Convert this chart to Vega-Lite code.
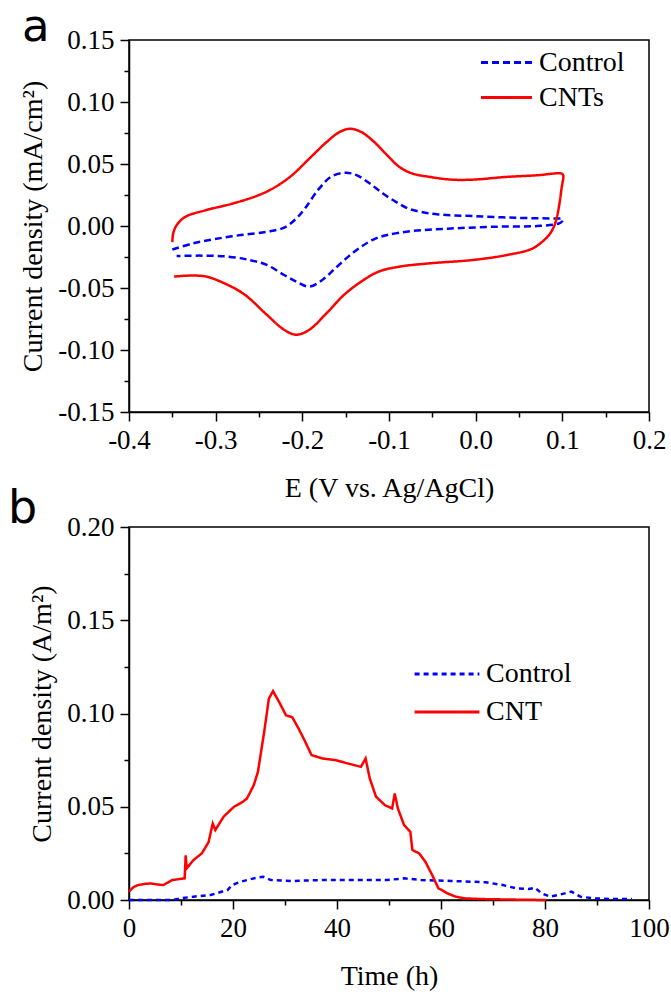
{
  "$schema": "https://vega.github.io/schema/vega-lite/v6.json",
  "padding": {"left": 7, "top": 4, "right": 5, "bottom": 5},
  "background": "white",
  "spacing": -18,
  "datasets": {
    "cv": [
      {"s": "Control", "i": 0, "E": -0.350, "j": -0.019},
      {"s": "Control", "i": 1, "E": -0.326, "j": -0.014},
      {"s": "Control", "i": 2, "E": -0.301, "j": -0.0105},
      {"s": "Control", "i": 3, "E": -0.271, "j": -0.0073},
      {"s": "Control", "i": 4, "E": -0.241, "j": -0.0046},
      {"s": "Control", "i": 5, "E": -0.221, "j": -0.0014},
      {"s": "Control", "i": 6, "E": -0.207, "j": 0.006},
      {"s": "Control", "i": 7, "E": -0.197, "j": 0.0141},
      {"s": "Control", "i": 8, "E": -0.182, "j": 0.0289},
      {"s": "Control", "i": 9, "E": -0.167, "j": 0.0396},
      {"s": "Control", "i": 10, "E": -0.150, "j": 0.043},
      {"s": "Control", "i": 11, "E": -0.137, "j": 0.0409},
      {"s": "Control", "i": 12, "E": -0.122, "j": 0.0342},
      {"s": "Control", "i": 13, "E": -0.107, "j": 0.0262},
      {"s": "Control", "i": 14, "E": -0.092, "j": 0.0195},
      {"s": "Control", "i": 15, "E": -0.078, "j": 0.0141},
      {"s": "Control", "i": 16, "E": -0.063, "j": 0.0114},
      {"s": "Control", "i": 17, "E": -0.043, "j": 0.0093},
      {"s": "Control", "i": 18, "E": -0.003, "j": 0.008},
      {"s": "Control", "i": 19, "E": 0.046, "j": 0.0066},
      {"s": "Control", "i": 20, "E": 0.096, "j": 0.006},
      {"s": "Control", "i": 21, "E": 0.100, "j": 0.006},
      {"s": "Control", "i": 22, "E": 0.100, "j": 0.004},
      {"s": "Control", "i": 23, "E": 0.096, "j": 0.002},
      {"s": "Control", "i": 24, "E": 0.071, "j": 0.0},
      {"s": "Control", "i": 25, "E": 0.022, "j": -0.0006},
      {"s": "Control", "i": 26, "E": -0.028, "j": -0.002},
      {"s": "Control", "i": 27, "E": -0.073, "j": -0.004},
      {"s": "Control", "i": 28, "E": -0.102, "j": -0.0073},
      {"s": "Control", "i": 29, "E": -0.117, "j": -0.0105},
      {"s": "Control", "i": 30, "E": -0.132, "j": -0.0167},
      {"s": "Control", "i": 31, "E": -0.147, "j": -0.0247},
      {"s": "Control", "i": 32, "E": -0.162, "j": -0.0341},
      {"s": "Control", "i": 33, "E": -0.177, "j": -0.0435},
      {"s": "Control", "i": 34, "E": -0.192, "j": -0.0489},
      {"s": "Control", "i": 35, "E": -0.207, "j": -0.0448},
      {"s": "Control", "i": 36, "E": -0.221, "j": -0.0395},
      {"s": "Control", "i": 37, "E": -0.241, "j": -0.0314},
      {"s": "Control", "i": 38, "E": -0.261, "j": -0.0274},
      {"s": "Control", "i": 39, "E": -0.286, "j": -0.0247},
      {"s": "Control", "i": 40, "E": -0.316, "j": -0.0239},
      {"s": "Control", "i": 41, "E": -0.345, "j": -0.0242},
      {"s": "CNTs", "i": 0, "E": -0.350, "j": -0.013},
      {"s": "CNTs", "i": 1, "E": -0.349, "j": -0.006},
      {"s": "CNTs", "i": 2, "E": -0.345, "j": 0.0007},
      {"s": "CNTs", "i": 3, "E": -0.335, "j": 0.0074},
      {"s": "CNTs", "i": 4, "E": -0.311, "j": 0.0128},
      {"s": "CNTs", "i": 5, "E": -0.281, "j": 0.018},
      {"s": "CNTs", "i": 6, "E": -0.251, "j": 0.0247},
      {"s": "CNTs", "i": 7, "E": -0.231, "j": 0.0315},
      {"s": "CNTs", "i": 8, "E": -0.212, "j": 0.0409},
      {"s": "CNTs", "i": 9, "E": -0.192, "j": 0.0543},
      {"s": "CNTs", "i": 10, "E": -0.172, "j": 0.0677},
      {"s": "CNTs", "i": 11, "E": -0.157, "j": 0.0758},
      {"s": "CNTs", "i": 12, "E": -0.145, "j": 0.0784},
      {"s": "CNTs", "i": 13, "E": -0.132, "j": 0.0758},
      {"s": "CNTs", "i": 14, "E": -0.117, "j": 0.0677},
      {"s": "CNTs", "i": 15, "E": -0.102, "j": 0.057},
      {"s": "CNTs", "i": 16, "E": -0.088, "j": 0.0476},
      {"s": "CNTs", "i": 17, "E": -0.073, "j": 0.0423},
      {"s": "CNTs", "i": 18, "E": -0.053, "j": 0.0396},
      {"s": "CNTs", "i": 19, "E": -0.028, "j": 0.0374},
      {"s": "CNTs", "i": 20, "E": -0.003, "j": 0.0374},
      {"s": "CNTs", "i": 21, "E": 0.036, "j": 0.0396},
      {"s": "CNTs", "i": 22, "E": 0.071, "j": 0.0409},
      {"s": "CNTs", "i": 23, "E": 0.099, "j": 0.0423},
      {"s": "CNTs", "i": 24, "E": 0.101, "j": 0.041},
      {"s": "CNTs", "i": 25, "E": 0.099, "j": 0.030},
      {"s": "CNTs", "i": 26, "E": 0.097, "j": 0.0195},
      {"s": "CNTs", "i": 27, "E": 0.094, "j": 0.008},
      {"s": "CNTs", "i": 28, "E": 0.091, "j": 0.0007},
      {"s": "CNTs", "i": 29, "E": 0.086, "j": -0.006},
      {"s": "CNTs", "i": 30, "E": 0.081, "j": -0.010},
      {"s": "CNTs", "i": 31, "E": 0.066, "j": -0.018},
      {"s": "CNTs", "i": 32, "E": 0.036, "j": -0.0234},
      {"s": "CNTs", "i": 33, "E": -0.003, "j": -0.0274},
      {"s": "CNTs", "i": 34, "E": -0.053, "j": -0.0301},
      {"s": "CNTs", "i": 35, "E": -0.088, "j": -0.0328},
      {"s": "CNTs", "i": 36, "E": -0.112, "j": -0.0368},
      {"s": "CNTs", "i": 37, "E": -0.132, "j": -0.0448},
      {"s": "CNTs", "i": 38, "E": -0.152, "j": -0.0556},
      {"s": "CNTs", "i": 39, "E": -0.172, "j": -0.0703},
      {"s": "CNTs", "i": 40, "E": -0.192, "j": -0.0837},
      {"s": "CNTs", "i": 41, "E": -0.207, "j": -0.0877},
      {"s": "CNTs", "i": 42, "E": -0.221, "j": -0.0837},
      {"s": "CNTs", "i": 43, "E": -0.241, "j": -0.0716},
      {"s": "CNTs", "i": 44, "E": -0.266, "j": -0.0556},
      {"s": "CNTs", "i": 45, "E": -0.286, "j": -0.0475},
      {"s": "CNTs", "i": 46, "E": -0.311, "j": -0.0408},
      {"s": "CNTs", "i": 47, "E": -0.330, "j": -0.0400},
      {"s": "CNTs", "i": 48, "E": -0.348, "j": -0.0408}
    ],
    "ct": [
      {"s": "Control", "t": 0, "j": 0},
      {"s": "Control", "t": 8.3, "j": 0},
      {"s": "Control", "t": 9.9, "j": 0.0009},
      {"s": "Control", "t": 12.4, "j": 0.0018},
      {"s": "Control", "t": 15.7, "j": 0.0027},
      {"s": "Control", "t": 19.0, "j": 0.0054},
      {"s": "Control", "t": 19.8, "j": 0.008},
      {"s": "Control", "t": 21.5, "j": 0.0098},
      {"s": "Control", "t": 24.0, "j": 0.0116},
      {"s": "Control", "t": 25.8, "j": 0.0125},
      {"s": "Control", "t": 27.3, "j": 0.0107},
      {"s": "Control", "t": 31.4, "j": 0.0102},
      {"s": "Control", "t": 37.2, "j": 0.0107},
      {"s": "Control", "t": 45.5, "j": 0.0107},
      {"s": "Control", "t": 49.6, "j": 0.0107},
      {"s": "Control", "t": 52.9, "j": 0.0116},
      {"s": "Control", "t": 56.2, "j": 0.0107},
      {"s": "Control", "t": 62.0, "j": 0.0102},
      {"s": "Control", "t": 68.6, "j": 0.0095},
      {"s": "Control", "t": 71.9, "j": 0.008},
      {"s": "Control", "t": 74.4, "j": 0.0063},
      {"s": "Control", "t": 76.9, "j": 0.0059},
      {"s": "Control", "t": 78.1, "j": 0.0066},
      {"s": "Control", "t": 79.3, "j": 0.0036},
      {"s": "Control", "t": 81.0, "j": 0.0018},
      {"s": "Control", "t": 82.6, "j": 0.0027},
      {"s": "Control", "t": 85.1, "j": 0.0045},
      {"s": "Control", "t": 86.8, "j": 0.0018},
      {"s": "Control", "t": 89.3, "j": 0.0009},
      {"s": "Control", "t": 92.6, "j": 0.0005},
      {"s": "Control", "t": 96.7, "j": 0.0005},
      {"s": "CNT", "t": 0, "j": 0.0045},
      {"s": "CNT", "t": 0.8, "j": 0.0068},
      {"s": "CNT", "t": 1.7, "j": 0.008},
      {"s": "CNT", "t": 3.0, "j": 0.0086},
      {"s": "CNT", "t": 4.1, "j": 0.0089},
      {"s": "CNT", "t": 5.3, "j": 0.0084},
      {"s": "CNT", "t": 6.6, "j": 0.008},
      {"s": "CNT", "t": 8.3, "j": 0.0107},
      {"s": "CNT", "t": 10.7, "j": 0.0116},
      {"s": "CNT", "t": 10.9, "j": 0.024},
      {"s": "CNT", "t": 11.1, "j": 0.017},
      {"s": "CNT", "t": 12.4, "j": 0.0214},
      {"s": "CNT", "t": 14.0, "j": 0.025},
      {"s": "CNT", "t": 15.3, "j": 0.031},
      {"s": "CNT", "t": 16.1, "j": 0.041},
      {"s": "CNT", "t": 16.6, "j": 0.0375},
      {"s": "CNT", "t": 18.2, "j": 0.0447},
      {"s": "CNT", "t": 20.2, "j": 0.05},
      {"s": "CNT", "t": 21.9, "j": 0.0527},
      {"s": "CNT", "t": 22.7, "j": 0.0545},
      {"s": "CNT", "t": 24.0, "j": 0.0616},
      {"s": "CNT", "t": 24.8, "j": 0.0688},
      {"s": "CNT", "t": 26.0, "j": 0.0902},
      {"s": "CNT", "t": 26.9, "j": 0.108},
      {"s": "CNT", "t": 27.7, "j": 0.112},
      {"s": "CNT", "t": 28.9, "j": 0.106},
      {"s": "CNT", "t": 30.2, "j": 0.099},
      {"s": "CNT", "t": 31.4, "j": 0.098},
      {"s": "CNT", "t": 32.6, "j": 0.092},
      {"s": "CNT", "t": 33.9, "j": 0.0848},
      {"s": "CNT", "t": 35.1, "j": 0.0777},
      {"s": "CNT", "t": 37.2, "j": 0.0759},
      {"s": "CNT", "t": 39.7, "j": 0.075},
      {"s": "CNT", "t": 42.1, "j": 0.0732},
      {"s": "CNT", "t": 44.6, "j": 0.0714},
      {"s": "CNT", "t": 45.5, "j": 0.0759},
      {"s": "CNT", "t": 46.3, "j": 0.0652},
      {"s": "CNT", "t": 47.5, "j": 0.0554},
      {"s": "CNT", "t": 49.2, "j": 0.0509},
      {"s": "CNT", "t": 50.6, "j": 0.0491},
      {"s": "CNT", "t": 51.1, "j": 0.0571},
      {"s": "CNT", "t": 51.7, "j": 0.0491},
      {"s": "CNT", "t": 52.9, "j": 0.0402},
      {"s": "CNT", "t": 54.1, "j": 0.0366},
      {"s": "CNT", "t": 54.5, "j": 0.0268},
      {"s": "CNT", "t": 55.8, "j": 0.025},
      {"s": "CNT", "t": 57.0, "j": 0.0205},
      {"s": "CNT", "t": 58.3, "j": 0.0134},
      {"s": "CNT", "t": 59.5, "j": 0.0063},
      {"s": "CNT", "t": 61.2, "j": 0.0036},
      {"s": "CNT", "t": 62.8, "j": 0.0018},
      {"s": "CNT", "t": 64.5, "j": 0.0009},
      {"s": "CNT", "t": 67.8, "j": 0.0005},
      {"s": "CNT", "t": 74.4, "j": 0.0002},
      {"s": "CNT", "t": 80.2, "j": 0}
    ]
  },
  "vconcat": [
    {
      "width": 520,
      "height": 372,
      "title": {"text": "a", "anchor": "start", "frame": "group", "dx": -107, "offset": -24, "font": "DejaVu Sans", "fontSize": 45, "fontWeight": "normal", "color": "black"},
      "data": {"name": "cv"},
      "mark": {"type": "line", "strokeWidth": 2.5, "interpolate": "catmull-rom"},
      "encoding": {
        "x": {
          "field": "E", "type": "quantitative",
          "scale": {"domain": [-0.4, 0.2], "nice": false, "zero": false},
          "axis": {
            "title": "E (V vs. Ag/AgCl)",
            "values": [-0.4, -0.35, -0.3, -0.25, -0.2, -0.15, -0.1, -0.05, 0, 0.05, 0.1, 0.15, 0.2],
            "labelExpr": "abs(round(datum.value*100)) % 10 === 0 ? replace(format(datum.value, '.1f'), '\u2212', '-') : ''",
            "tickSize": {"condition": {"test": "abs(round(datum.value*100)) % 10 === 0", "value": 9}, "value": 5},
            "titlePadding": 21
          }
        },
        "y": {
          "field": "j", "type": "quantitative",
          "scale": {"domain": [-0.15, 0.15], "nice": false, "zero": false},
          "axis": {
            "title": "Current density (mA/cm²)",
            "values": [-0.15, -0.125, -0.1, -0.075, -0.05, -0.025, 0, 0.025, 0.05, 0.075, 0.1, 0.125, 0.15],
            "labelExpr": "abs(round(datum.value*1000)) % 50 === 0 ? replace(format(datum.value, '.2f'), '\u2212', '-') : ''",
            "tickSize": {"condition": {"test": "abs(round(datum.value*1000)) % 50 === 0", "value": 9}, "value": 5},
            "titlePadding": 10
          }
        },
        "order": {"field": "i", "type": "quantitative"},
        "color": {
          "field": "s", "type": "nominal",
          "scale": {"domain": ["Control", "CNTs"], "range": ["#0000FF", "#FF0000"]},
          "legend": {"orient": "none", "legendX": 363, "legendY": 8, "title": null, "labelFont": "Liberation Serif", "symbolType": "M-2,0H2", "symbolSize": 650, "rowPadding": 6, "labelOffset": 18}
        },
        "strokeDash": {
          "field": "s", "type": "nominal",
          "scale": {"domain": ["Control", "CNTs"], "range": [[7, 4], [1, 0]]},
          "legend": {"orient": "none", "legendX": 363, "legendY": 8, "title": null, "labelFont": "Liberation Serif", "symbolType": "M-2,0H2", "symbolSize": 650, "rowPadding": 6, "labelOffset": 18}
        }
      }
    },
    {
      "width": 520,
      "height": 373,
      "title": {"text": "b", "anchor": "start", "frame": "group", "dx": -121, "offset": -20, "font": "DejaVu Sans", "fontSize": 46, "fontWeight": "normal", "color": "black"},
      "data": {"name": "ct"},
      "mark": {"type": "line", "strokeWidth": 2.5},
      "encoding": {
        "x": {
          "field": "t", "type": "quantitative",
          "scale": {"domain": [0, 100], "nice": false, "zero": false},
          "axis": {
            "title": "Time (h)",
            "values": [0, 10, 20, 30, 40, 50, 60, 70, 80, 90, 100],
            "labelExpr": "round(datum.value) % 20 === 0 ? format(datum.value, 'd') : ''",
            "tickSize": {"condition": {"test": "round(datum.value) % 20 === 0", "value": 9}, "value": 5},
            "titlePadding": 21
          }
        },
        "y": {
          "field": "j", "type": "quantitative",
          "scale": {"domain": [0, 0.2], "nice": false, "zero": false},
          "axis": {
            "title": "Current density (A/m²)",
            "values": [0, 0.025, 0.05, 0.075, 0.1, 0.125, 0.15, 0.175, 0.2],
            "labelExpr": "round(datum.value*1000) % 50 === 0 ? format(datum.value, '.2f') : ''",
            "tickSize": {"condition": {"test": "round(datum.value*1000) % 50 === 0", "value": 9}, "value": 5},
            "titlePadding": 10
          }
        },
        "order": {"field": "t", "type": "quantitative"},
        "color": {
          "field": "s", "type": "nominal",
          "scale": {"domain": ["Control", "CNT"], "range": ["#0000FF", "#FF0000"]},
          "legend": {"orient": "none", "legendX": 300, "legendY": 129, "title": null, "labelFont": "Liberation Serif", "symbolType": "M-2,0H2", "symbolSize": 1050, "rowPadding": 6, "labelOffset": 21}
        },
        "strokeDash": {
          "field": "s", "type": "nominal",
          "scale": {"domain": ["Control", "CNT"], "range": [[5, 4], [1, 0]]},
          "legend": {"orient": "none", "legendX": 300, "legendY": 129, "title": null, "labelFont": "Liberation Serif", "symbolType": "M-2,0H2", "symbolSize": 1050, "rowPadding": 6, "labelOffset": 21}
        }
      }
    }
  ],
  "resolve": {"scale": {"color": "independent", "strokeDash": "independent"}, "legend": {"color": "independent", "strokeDash": "independent"}},
  "config": {
    "font": "Liberation Serif",
    "view": {"stroke": "black", "strokeWidth": 1.5},
    "axis": {
      "domainColor": "black", "domainWidth": 1.5,
      "tickColor": "black", "tickWidth": 1.5,
      "labelFont": "Liberation Serif", "labelFontSize": 27, "labelColor": "black", "labelPadding": 6,
      "titleFont": "Liberation Serif", "titleFontSize": 28, "titleFontWeight": "normal", "titleColor": "black",
      "grid": false, "labelOverlap": false, "labelFlush": false
    },
    "legend": {
      "symbolStrokeWidth": 3,
      "labelFontSize": 28, "labelColor": "black",
      "padding": 0
    }
  }
}
